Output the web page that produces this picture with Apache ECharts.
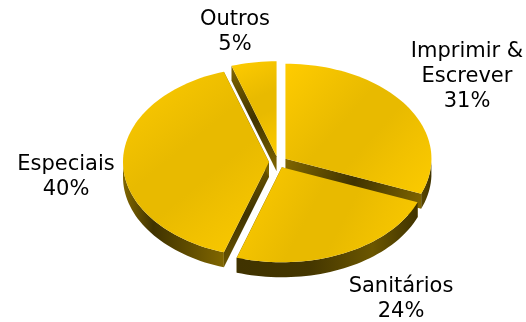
<!DOCTYPE html>
<html>
<head>
<meta charset="utf-8">
<style>html,body{margin:0;padding:0;background:#fff}#c{width:526px;height:322px}</style>
<script src="https://cdn.jsdelivr.net/npm/echarts@6/dist/echarts.min.js"></script>
</head>
<body>
<div id="c"></div>
<script>
// Paper consumption by type, percentage share
const categories = ['Imprimir &\nEscrever', 'Sanitários', 'Especiais', 'Outros'];
const shares = [31, 24, 40, 5];
const percentLabels = ['31%', '24%', '40%', '5%'];

// Tilted disc geometry
const cx = 278, cy = 162, rx = 146, ry = 95, depth = 15, explode = 9;
// Painting order, back to front, per category
const layer = [1, 3, 2, 0];
// Label anchor (horizontal centre, first line centre)
const labelAnchors = [[467, 50], [401, 287], [66, 165], [235, 20]];

const gradient = (x2, y2, stops) => ({
  type: 'linear', x: 0, y: 0, x2, y2,
  colorStops: stops.map(([offset, color]) => ({offset, color}))
});
const topFill = gradient(1, 1, [[0, '#ffcc00'], [0.25, '#f1c100'], [0.42, '#e8ba00'],
  [0.58, '#e8ba00'], [0.75, '#f1c100'], [1, '#fccb00']]);
const cutFill = gradient(1, 1, [[0, '#806600'], [0.5, '#403300'], [1, '#806600']]);
// Rim shading, left to right, per category
const rimFills = [
  gradient(1, 0, [[0, '#5a4800'], [1, '#403300']]),
  gradient(1, 0, [[0, '#403300'], [0.4, '#443600'], [0.75, '#6b5600'], [1, '#403300']]),
  gradient(1, 0, [[0, '#806600'], [0.3, '#403300'], [1, '#806600']]),
  gradient(1, 0, [[0, '#403300'], [1, '#403300']])
];

const total = shares.reduce((a, b) => a + b, 0);

function renderWedge(params, api) {
  const i = params.dataIndex;
  const before = shares.slice(0, i).reduce((a, b) => a + b, 0);
  const a0 = before / total * Math.PI * 2;
  const a1 = (before + api.value(0)) / total * Math.PI * 2;
  const mid = (a0 + a1) / 2;
  const ox = cx + explode * Math.sin(mid);
  const oy = cy - explode * (ry / rx) * Math.cos(mid);
  const at = t => [ox + rx * Math.sin(t), oy - ry * Math.cos(t)];
  const down = p => [p[0], p[1] + depth];

  const arc = [];
  const steps = Math.max(4, Math.ceil((a1 - a0) / (Math.PI / 90)));
  for (let s = 0; s <= steps; s++) arc.push(at(a0 + (a1 - a0) * s / steps));

  const apex = [ox, oy];
  const children = [];
  const poly = (points, fill) => children.push({
    type: 'polygon', shape: {points}, z2: layer[i] * 10,
    style: {fill, stroke: null}
  });

  // side faces along both cuts, then the rim's visible lower part, then the top
  [arc[0], arc[arc.length - 1]].forEach(p => poly([apex, p, down(p), down(apex)], cutFill));
  const lower = arc.filter(p => p[1] >= oy);
  if (lower.length > 1) poly(lower.concat(lower.map(down).reverse()), rimFills[i]);
  poly([apex].concat(arc), topFill);

  // category and percentage, one line every 25px
  const lines = categories[i].split('\n').concat(percentLabels[i]);
  const anchor = labelAnchors[i];
  lines.forEach((line, n) => children.push({
    type: 'text', z2: 100,
    style: {
      text: line, x: anchor[0], y: anchor[1] + n * 25 + (categories[i].includes('\n') ? 2 : 0),
      align: 'center', verticalAlign: 'middle',
      font: '21px "DejaVu Sans"', fill: '#000'
    }
  }));
  return {type: 'group', children};
}

const chart = echarts.init(document.getElementById('c'), null, {renderer: 'canvas'});
chart.setOption({
  animation: false,
  backgroundColor: '#fff',
  series: [{
    type: 'custom',
    coordinateSystem: 'none',
    renderItem: renderWedge,
    silent: true,
    data: shares.map(v => [v])
  }]
});
</script>
</body>
</html>
